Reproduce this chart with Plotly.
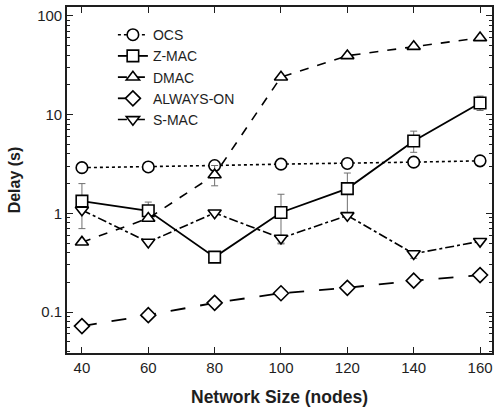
import plotly.graph_objects as go

x_nodes = [40, 60, 80, 100, 120, 140, 160]

ocs = [2.9, 2.95, 3.05, 3.15, 3.2, 3.3, 3.4]

zmac = [1.33, 1.06, 0.36, 1.02, 1.78, 5.4, 13.1]
zmac_err_up = [0.67, 0.24, 0.0, 0.54, 0.78, 1.4, 2.3]
zmac_err_dn = [0.63, 0.16, 0.0, 0.52, 0.78, 1.25, 2.1]

dmac = [0.51, 0.89, 2.45, 24.0, 39.5, 49.0, 60.0]
dmac_err_up = [0.0, 0.0, 0.6, 0.0, 0.0, 0.0, 0.0]
dmac_err_dn = [0.0, 0.0, 0.55, 0.0, 0.0, 0.0, 0.0]

always_on = [0.072, 0.093, 0.124, 0.155, 0.176, 0.208, 0.237]

smac = [1.08, 0.51, 1.01, 0.56, 0.95, 0.39, 0.52]
smac_err_up = [0.0, 0.0, 0.0, 0.04, 0.0, 0.03, 0.0]
smac_err_dn = [0.0, 0.0, 0.0, 0.07, 0.0, 0.04, 0.0]

y_tickvals = [0.1, 1, 10, 100]
y_ticktext = ["0.1", "1", "10", "100"]
x_tickvals = [40, 60, 80, 100, 120, 140, 160]

FONT = "Liberation Sans, Arial, Helvetica, sans-serif"
TXT = "#1e1e1e"
ERRC = "#6f6f6f"

def err(up, dn):
    return dict(type="data", symmetric=False, array=up, arrayminus=dn,
                color=ERRC, thickness=1, width=3.5, visible=True)

fig = go.Figure()

common_marker = dict(size=11.5, color="white", line=dict(color="black", width=1.6))

fig.add_trace(go.Scatter(
    x=x_nodes, y=ocs, name="OCS", mode="lines+markers",
    line=dict(color="black", width=1.6, dash="dot"),
    marker=dict(symbol="circle", **common_marker)))
fig.add_trace(go.Scatter(
    x=x_nodes, y=zmac, name="Z-MAC", mode="lines+markers",
    line=dict(color="black", width=1.8, dash="solid"),
    error_y=err(zmac_err_up, zmac_err_dn),
    marker=dict(symbol="square", **common_marker)))
fig.add_trace(go.Scatter(
    x=x_nodes, y=dmac, name="DMAC", mode="lines+markers",
    line=dict(color="black", width=1.6, dash="dash"),
    error_y=err(dmac_err_up, dmac_err_dn),
    marker=dict(symbol="triangle-up", **common_marker)))
fig.add_trace(go.Scatter(
    x=x_nodes, y=always_on, name="ALWAYS-ON", mode="lines+markers",
    line=dict(color="black", width=1.8, dash="longdash"),
    marker=dict(symbol="diamond", **common_marker)))
fig.add_trace(go.Scatter(
    x=x_nodes, y=smac, name="S-MAC", mode="lines+markers",
    line=dict(color="black", width=1.6, dash="dashdot"),
    error_y=err(smac_err_up, smac_err_dn),
    marker=dict(symbol="triangle-down", **common_marker)))

fig.update_layout(
    width=496, height=410,
    margin=dict(l=67, r=2, t=7, b=57),
    paper_bgcolor="white", plot_bgcolor="white",
    font=dict(family=FONT, size=14, color=TXT),
    showlegend=True,
    legend=dict(
        x=0.108, y=0.965, xanchor="left", yanchor="top",
        bgcolor="rgba(0,0,0,0)", borderwidth=0,
        font=dict(family=FONT, size=14, color=TXT),
        tracegroupgap=0, itemwidth=30,
    ),
)

fig.update_xaxes(
    range=[35.5, 163.6], tickvals=x_tickvals,
    ticks="inside", ticklen=6, tickwidth=1.2, tickcolor=TXT,
    showline=True, linecolor=TXT, linewidth=1.6, mirror="ticks",
    showgrid=False, zeroline=False,
    tickfont=dict(family=FONT, size=15, color=TXT),
    title=dict(text="<b>Network Size (nodes)</b>", font=dict(family=FONT, size=17.5, color=TXT), standoff=16),
)

fig.update_yaxes(
    type="log", range=[-1.415, 2.09],
    tickvals=y_tickvals, ticktext=y_ticktext,
    ticks="inside", ticklen=6, tickwidth=1.2, tickcolor=TXT,
    minor=dict(ticks="inside", ticklen=3, tickwidth=1, tickcolor=TXT, dtick="D1", showgrid=False),
    showline=True, linecolor=TXT, linewidth=1.6, mirror="ticks",
    showgrid=False, zeroline=False,
    tickfont=dict(family=FONT, size=15, color=TXT),
    title=dict(text="<b>Delay (s)</b>", font=dict(family=FONT, size=16, color=TXT), standoff=13),
)

fig.write_html("out.html")
